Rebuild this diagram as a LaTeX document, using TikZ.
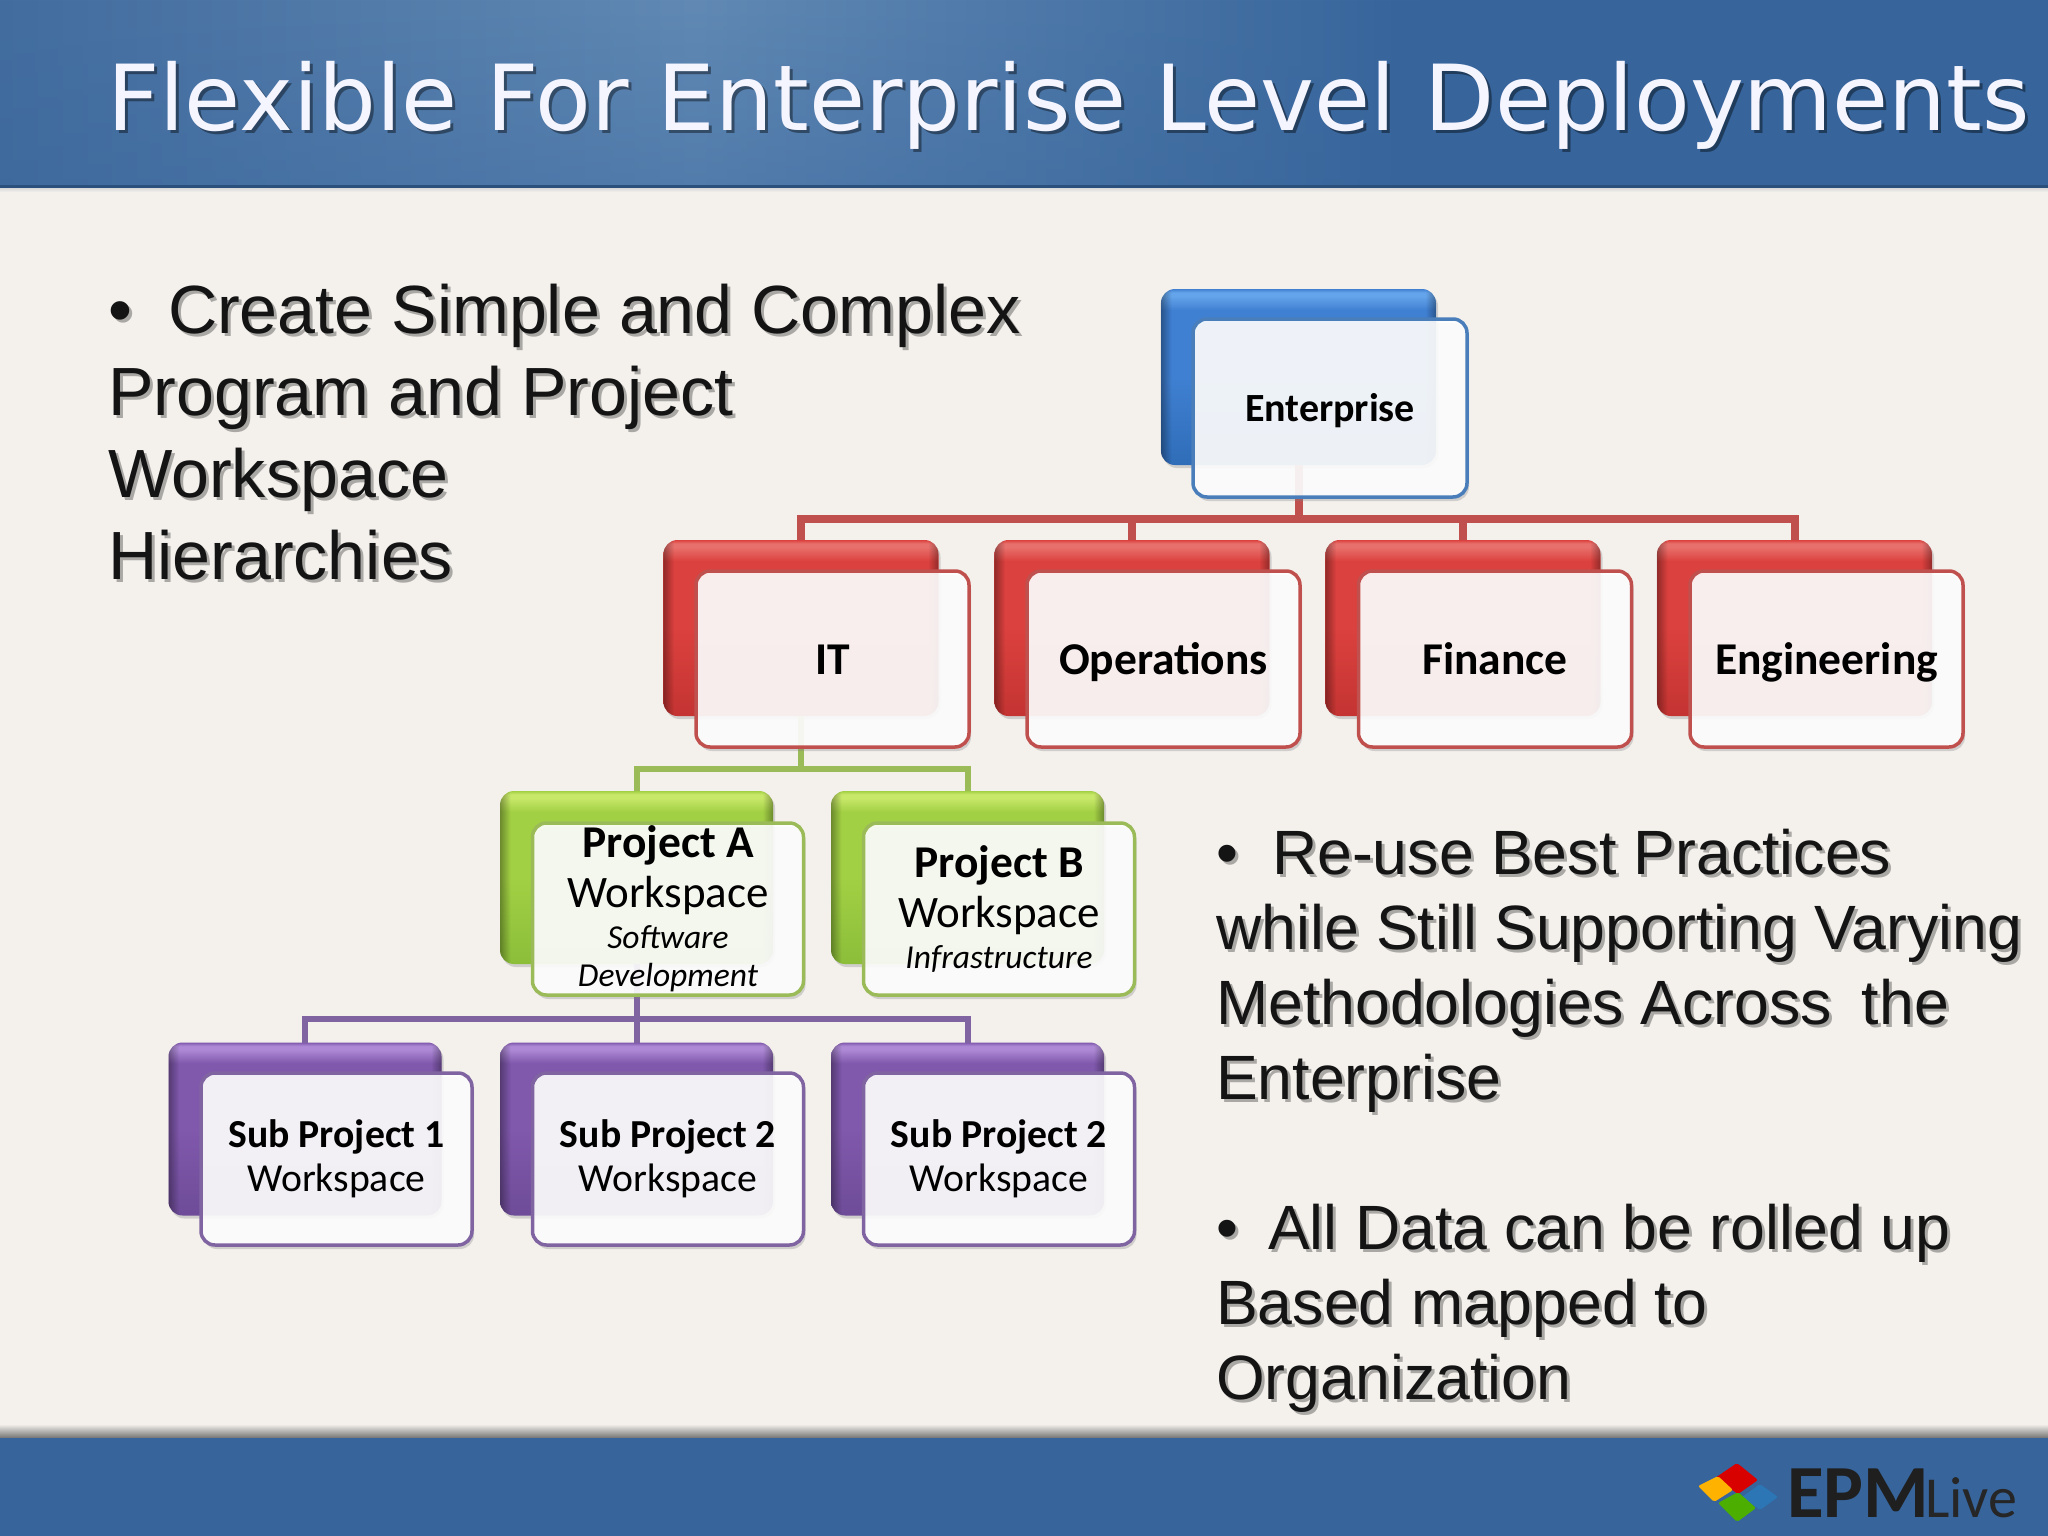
\documentclass[tikz,border=0pt]{standalone}
\usepackage{fontspec}
\setmainfont{Liberation Sans}
\newfontfamily\boxfont{Carlito}
\newfontfamily\titlefont{DejaVu Sans}
\usetikzlibrary{shadows,fadings}
\definecolor{pagebg}{HTML}{F4F1ED}
\definecolor{barblue}{HTML}{36649B}
\definecolor{hdedge}{HTML}{436D9F}
\definecolor{hdglow}{HTML}{6189B4}
\definecolor{bluel}{HTML}{64A4EA}\definecolor{bluem}{HTML}{4080D2}\definecolor{blued}{HTML}{2F6DB8}\definecolor{blueb}{HTML}{4A7EBB}
\definecolor{redl}{HTML}{E8706C}\definecolor{redm}{HTML}{DB413E}\definecolor{redd}{HTML}{C43432}\definecolor{redb}{HTML}{C0504D}
\definecolor{grnl}{HTML}{C8E86A}\definecolor{grnm}{HTML}{A2D044}\definecolor{grnd}{HTML}{8CBE3A}\definecolor{grnb}{HTML}{9BBB59}
\definecolor{purl}{HTML}{AE8AD6}\definecolor{purm}{HTML}{8058AC}\definecolor{purd}{HTML}{6E4C98}\definecolor{purb}{HTML}{8064A2}
\newcommand{\mkback}[4]{\pgfdeclareverticalshading{#1}{100bp}{color(0bp)=(#4); color(25bp)=(#4); color(50bp)=(#3); color(69bp)=(#3); color(73bp)=(#2); color(74bp)=(#2); color(75bp)=(#3); color(100bp)=(#3)}}
\mkback{blueback}{bluel}{bluem}{blued}
\mkback{redback}{redl}{redm}{redd}
\mkback{grnback}{grnl}{grnm}{grnd}
\mkback{purback}{purl}{purm}{purd}
\pgfdeclarehorizontalshading{headshade}{100bp}{color(0bp)=(hdedge); color(25bp)=(hdedge); color(42bp)=(hdglow); color(60bp)=(barblue); color(100bp)=(barblue)}
\tikzfading[name=fadeup,top color=transparent!100,bottom color=transparent!65]
\pgfdeclarehorizontalshading{edgeshade}{100bp}{color(0bp)=(transparent!65); color(25bp)=(transparent!65); color(27bp)=(transparent!100); color(73bp)=(transparent!100); color(75bp)=(transparent!65); color(100bp)=(transparent!65)}
\tikzfading[name=edgedark,shading=edgeshade]
\newcommand{\fs}[2]{\fontsize{#1}{#2}\selectfont}
\newcommand{\boxset}{\boxfont\lineskiplimit -1000pt\relax}
\tikzset{
  x=1pt,y=-1pt,
  backbox/.style={rectangle,rounded corners=14pt,inner sep=0pt,outer sep=0pt,drop shadow={shadow xshift=2pt,shadow yshift=-3pt,opacity=.3},postaction={fill=black,path fading=edgedark}},
  frontbox/.style={rectangle,rounded corners=14pt,inner sep=0pt,outer sep=0pt,line width=3.5pt,fill=white,fill opacity=.9,text opacity=1,text=black,align=center,drop shadow={shadow xshift=2pt,shadow yshift=-4pt,opacity=.3},font=\boxset},
  bluesz/.style={minimum width=275pt,minimum height=176pt},
  bluefr/.style={minimum width=274pt,minimum height=178pt},
  redsz/.style={minimum width=275pt,minimum height=176pt},
  redfr/.style={minimum width=273pt,minimum height=176pt},
  lowsz/.style={minimum width=273pt,minimum height=173pt},
  lowfr/.style={minimum width=271pt,minimum height=172pt},
  redlabel/.style={text height=30pt,text depth=0pt},
  buslink/.style={line width=#1,line join=miter},
  bodytxt/.style={anchor=north west,inner sep=0pt,align=left,text=black!92},
  bodyshade/.style={anchor=north west,inner sep=0pt,align=left,text=black,opacity=.3}
}
\newcommand{\LeftFont}{\fs{68.2}{82}}
\newcommand{\RightFont}{\fs{62.6}{75}}
\newcommand{\TextA}{•\hspace{36pt}Create Simple and Complex\\Program and Project\\Workspace\\Hierarchies}
\newcommand{\TextB}{•\hspace{34pt}Re-use Best Practices\\while Still Supporting Varying\\Methodologies Across\hspace{30pt}the\\Enterprise}
\newcommand{\TextC}{•\hspace{30pt}All Data can be rolled up\\Based mapped to\\Organization}
\begin{document}
\begin{tikzpicture}
\useasboundingbox (0,0) rectangle (2048,1536);
\fill[pagebg] (0,0) rectangle (2048,1536);
% header
\shade[shading=headshade] (0,0) rectangle (2048,186);
\fill[barblue,path fading=fadeup] (0,0) rectangle (2048,186);
\fill[black!20!barblue] (0,185) rectangle (2048,188);
\shade[top color=black!15,bottom color=pagebg] (0,188) rectangle (2048,192);
% footer
\shade[top color=pagebg,bottom color=black!55] (0,1424) rectangle (2048,1438);
\fill[barblue] (0,1438) rectangle (2048,1536);
% title
\node[anchor=base west,inner sep=0pt,font=\titlefont\fs{91.1}{100},text=black,opacity=.4] (titleshade) at (110,134) {Flexible For Enterprise Level Deployments};
\node[anchor=base west,inner sep=0pt,font=\titlefont\fs{91.1}{100},text=white!96!blue] (title) at (107,131) {Flexible For Enterprise Level Deployments};
% body text
\node[bodyshade,font=\LeftFont] (ashade) at (111,287) {\TextA};
\node[bodytxt,font=\LeftFont] (atext) at (108,284) {\TextA};
\node[bodyshade,font=\RightFont] (bshade) at (1219,832) {\TextB};
\node[bodytxt,font=\RightFont] (btext) at (1216,829) {\TextB};
\node[bodyshade,font=\RightFont] (cshade) at (1219,1207) {\TextC};
\node[bodytxt,font=\RightFont] (ctext) at (1216,1204) {\TextC};
% back boxes
\node[backbox,bluesz,shading=blueback] (entbk) at (1298.5,377) {};
\node[backbox,redsz,shading=redback] (itbk) at (801,628) {};
\node[backbox,redsz,shading=redback] (opsbk) at (1132,628) {};
\node[backbox,redsz,shading=redback] (finbk) at (1463,628) {};
\node[backbox,redsz,shading=redback] (engbk) at (1794.5,628) {};
\node[backbox,lowsz,shading=grnback] (pabk) at (636.5,877.5) {};
\node[backbox,lowsz,shading=grnback] (pbbk) at (967.5,877.5) {};
\node[backbox,lowsz,shading=purback] (s1bk) at (305,1129) {};
\node[backbox,lowsz,shading=purback] (s2bk) at (636.5,1129) {};
\node[backbox,lowsz,shading=purback] (s3bk) at (967.5,1129) {};
% connectors
\coordinate (rbus) at (1298.5,519);
\coordinate (gbus) at (803,769);
\coordinate (pbus) at (638,1019);
\draw[redb,buslink=8pt] (entbk.south) -- (entbk.south |- rbus);
\draw[redb,buslink=8pt] (itbk.north) |- (rbus) -| (engbk.north);
\draw[redb,buslink=8pt] (opsbk.north) -- (opsbk.north |- rbus);
\draw[redb,buslink=8pt] (finbk.north) -- (finbk.north |- rbus);
\draw[grnb,buslink=6pt] (itbk.south) -- (itbk.south |- gbus);
\draw[grnb,buslink=6pt] (pabk.north) |- (gbus) -| (pbbk.north);
\draw[purb,buslink=6pt] (pabk.south) -- (s2bk.north);
\draw[purb,buslink=6pt] (s1bk.north) |- (pbus) -| (s3bk.north);
% front boxes
\node[frontbox,bluefr,draw=blueb,text height=26pt,text depth=0pt] (ent) at (1330,408) {\fs{40}{46}\bfseries Enterprise};
\node[frontbox,redfr,draw=redb,redlabel] (it) at (832.5,659) {\fs{45.5}{52}\bfseries IT};
\node[frontbox,redfr,draw=redb,redlabel] (ops) at (1163.5,659) {\fs{45.5}{52}\bfseries Operations};
\node[frontbox,redfr,draw=redb,redlabel] (fin) at (1495,659) {\fs{45.5}{52}\bfseries Finance};
\node[frontbox,redfr,draw=redb,redlabel] (eng) at (1826.5,659) {\fs{45.5}{52}\bfseries Engineering};
\node[frontbox,lowfr,draw=grnb] (pa) at (668,909) {\fs{45}{0}{\fs{45.5}{0}\bfseries Project A}\\[38pt]{\fs{45}{0}Workspace}\\[29pt]{\fs{33.5}{0}\itshape Software}\\[26pt]{\fs{33.5}{0}\itshape Development}};
\node[frontbox,lowfr,draw=grnb] (pb) at (999,909) {\fs{45}{0}{\fs{45.5}{0}\bfseries Project B}\\[38pt]{\fs{45}{0}Workspace}\\[29pt]{\fs{33.5}{0}\itshape Infrastructure}};
\node[frontbox,lowfr,draw=purb] (s1) at (336.5,1159) {\fs{39.7}{0}{\bfseries Sub Project 1}\\[32pt]{\fs{39.7}{0}Workspace}};
\node[frontbox,lowfr,draw=purb] (s2) at (668,1159) {\fs{39.7}{0}{\bfseries Sub Project 2}\\[32pt]{\fs{39.7}{0}Workspace}};
\node[frontbox,lowfr,draw=purb] (s3) at (999,1159) {\fs{39.7}{0}{\bfseries Sub Project 2}\\[32pt]{\fs{39.7}{0}Workspace}};
% logo
\fill[red!85!black,rounded corners=2pt] (1715,1478) -- (1737,1463) -- (1758,1480) -- (1738,1494) -- cycle;
\fill[orange!60!yellow,rounded corners=2pt] (1698,1486) -- (1718,1476) -- (1733,1490) -- (1714,1502) -- cycle;
\fill[cyan!60!blue!85!black,rounded corners=2pt] (1742,1497) -- (1760,1484) -- (1778,1497) -- (1760,1510) -- cycle;
\fill[green!55!black!70!yellow,rounded corners=2pt] (1718,1503) -- (1738,1492) -- (1756,1508) -- (1737,1522) -- cycle;
\node[anchor=base west,inner sep=0pt,font=\boxfont\bfseries\fs{75}{80},text=black!88] (epm) at (1787,1517) {EPM};
\node[anchor=base west,inner sep=0pt,font=\boxfont\fs{58}{70},text=black!85] (live) at (1925,1517) {Live};
\end{tikzpicture}
\end{document}
